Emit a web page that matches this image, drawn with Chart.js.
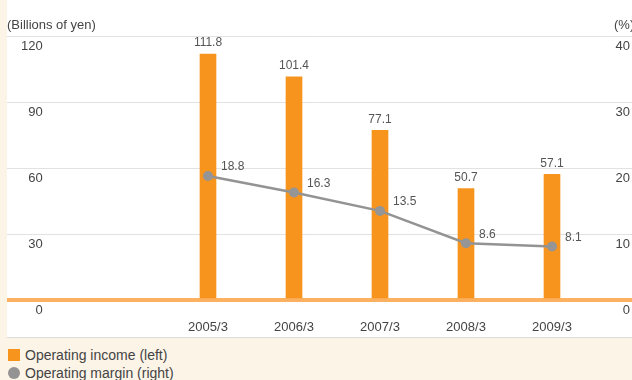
<!DOCTYPE html>
<html>
<head>
<meta charset="utf-8">
<script src="https://cdn.jsdelivr.net/npm/chart.js@4.4.0/dist/chart.umd.min.js"></script>
<style>
  html, body { margin: 0; padding: 0; }
  body { width: 632px; height: 380px; background: #fdf4e8; position: relative; overflow: hidden;
         font-family: "Liberation Sans", Arial, sans-serif; color: #444; }
  #panel { position: absolute; left: 7px; top: 0; width: 625px; height: 337px; background: #fff;
           border-bottom: 1px solid #dcdcdc; }
  #panel canvas { position: absolute; left: 0; top: 0; }
  .unit { position: absolute; top: 17px; font-size: 13px; color: #444; }
  #legend { position: absolute; left: 8px; top: 346px; font-size: 14px; color: #444; }
  #legend div { height: 18px; line-height: 18px; white-space: nowrap; }
  .sw { display: inline-block; width: 12px; height: 12px; margin-right: 5px; vertical-align: -1px; }
</style>
</head>
<body>
<div id="panel"><canvas id="myChart" width="625" height="337"></canvas></div>
<span class="unit" style="left:7px">(Billions of yen)</span>
<span class="unit" style="left:614px">(%)</span>
<div id="legend">
  <div><span class="sw" style="background:#f7941d"></span>Operating income (left)</div>
  <div><span class="sw" style="background:#939393;border-radius:6px"></span>Operating margin (right)</div>
</div>
<script>
// values
var categories = ['2005/3', '2006/3', '2007/3', '2008/3', '2009/3'];
var operatingIncome = [111.8, 101.4, 77.1, 50.7, 57.1];   // billions of yen
var operatingMargin = [18.8, 16.3, 13.5, 8.6, 8.1];       // %
var leftTicks = ['120', '\u200790', '\u200760', '\u200730', '\u2007\u20070'];

var incomeData = operatingIncome.map((v, i) => { return { x: i, y: v } });
var marginData = operatingMargin.map((v, i) => { return { x: i, y: v } });

// draws the numbers next to bars and points
var valueLabels = {
    id: 'valueLabels',
    afterDatasetsDraw(chart) {
        var ctx = chart.ctx;
        ctx.save();
        ctx.font = '12px "Liberation Sans", Arial, sans-serif';
        ctx.fillStyle = '#555';
        chart.data.datasets.forEach((ds, di) => {
            var meta = chart.getDatasetMeta(di);
            meta.data.forEach((el, i) => {
                var v = ds.data[i].y;
                if (ds.type === 'line') {
                    ctx.textAlign = 'left';
                    ctx.textBaseline = 'middle';
                    ctx.fillText(v.toFixed(1), el.x + 13, el.y - 9);
                } else {
                    ctx.textAlign = 'center';
                    ctx.textBaseline = 'bottom';
                    ctx.fillText(v.toFixed(1), el.x, el.y - 5);
                }
            });
        });
        ctx.restore();
    }
};

var ctx = document.getElementById('myChart');
var myChart = new Chart(ctx, {
    data: {
        datasets: [{
            type: 'bar',
            label: 'Operating income (left)',
            data: incomeData,
            backgroundColor: '#f7941d',
            barThickness: 16,
            yAxisID: 'y',
            order: 1
        }, {
            type: 'line',
            label: 'Operating margin (right)',
            data: marginData,
            borderColor: '#939393',
            backgroundColor: '#939393',
            borderWidth: 2.5,
            pointRadius: 5,
            pointBackgroundColor: '#959595',
            pointBorderWidth: 0,
            yAxisID: 'y1',
            order: 0
        }]
    },
    options: {
        responsive: false,
        animation: false,
        layout: { autoPadding: false, padding: { top: 36, left: 0, right: 0, bottom: 0 } },
        plugins: { legend: { display: false }, tooltip: { enabled: false } },
        scales: {
            x: {
                type: 'linear',
                offset: false,
                min: -201 / 86,
                max: 424 / 86,
                grid: { display: false, offset: false },
                border: { display: false },
                afterFit: (s) => { s.height = 37; s.paddingLeft = 0; s.paddingRight = 0; },
                ticks: {
                    stepSize: 1,
                    includeBounds: false,
                    autoSkip: false,
                    maxRotation: 0,
                    padding: 12,
                    color: '#444',
                    font: { size: 13, family: '"Liberation Sans", Arial, sans-serif' },
                    callback: (v) => Number.isInteger(v) && v >= 0 && v < categories.length ? categories[v] : ''
                }
            },
            y: {
                position: 'left',
                min: 0,
                max: 120,
                afterFit: (s) => { s.width = 0; },
                grid: {
                    drawTicks: false,
                    color: (c) => c.tick.value === 0 ? '#fbb160' : '#e2e2e2',
                    lineWidth: (c) => c.tick.value === 0 ? 4 : 1
                },
                border: { display: false },
                ticks: {
                    stepSize: 30,
                    mirror: true,
                    padding: 14,
                    labelOffset: 10,
                    color: '#444',
                    font: { size: 13, family: '"Liberation Sans", Arial, sans-serif' },
                    callback: (v, i) => leftTicks[leftTicks.length - 1 - i]
                }
            },
            y1: {
                position: 'right',
                min: 0,
                max: 40,
                afterFit: (s) => { s.width = 0; },
                grid: { display: false, drawTicks: false },
                border: { display: false },
                ticks: {
                    stepSize: 10,
                    mirror: true,
                    padding: -2,
                    labelOffset: 10,
                    color: '#444',
                    font: { size: 13, family: '"Liberation Sans", Arial, sans-serif' }
                }
            }
        }
    },
    plugins: [valueLabels]
});
</script>
</body>
</html>
